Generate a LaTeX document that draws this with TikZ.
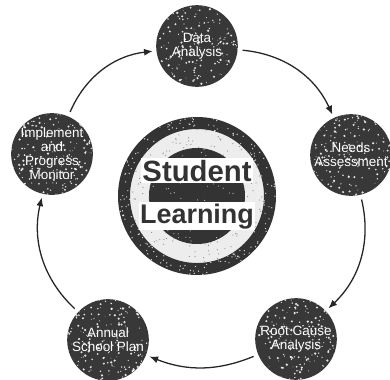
\documentclass[tikz,border=0pt]{standalone}
\usepackage{fontspec}
\setmainfont{Liberation Sans}
\usetikzlibrary{arrows.meta}

\begin{document}
\begin{tikzpicture}[x=0.03cm,y=-0.03cm,
	stage/.style={circle,fill=black!78,text=white,minimum size=2.45cm,inner sep=0pt,
		align=center,font=\fontsize{11.5}{12}\selectfont,
		path picture={
			\foreach \k in {1,...,170}{
				\pgfmathsetmacro\ang{rnd*360}
				\pgfmathsetmacro\rad{sqrt(rnd)*36}
				\pgfmathsetmacro\dot{0.3+rnd*0.8}
				\fill[white,opacity=0.85] (path picture bounding box.center) ++(\ang:\rad pt) circle (\dot pt);
			}}},
	cyc/.style={-{Latex[length=2.6mm,width=2.1mm]},line width=1.1pt,black!85,
		shorten <=4pt,shorten >=3pt},
	core/.style={fill=white,text=black!80,inner sep=1.2pt,font=\fontsize{23}{23}\selectfont\bfseries}]
\useasboundingbox (0,0) rectangle (390,379);
\pgfmathsetseed{11}

% the five stages
\node[stage] (da) at (197,46) {Data\\Analysis};
\node[stage] (na) at (351,155) {Needs\\Assessment};
\node[stage] (rc) at (296,339) {Root Cause\\Analysis};
\node[stage] (sp) at (108,340) {Annual\\School Plan};
\node[stage] (pm) at (52,154) {Implement\\and\\Progress\\Monitor};

% the cycle
\draw[cyc] (da) to[bend left=30] (na);
\draw[cyc] (na) to[bend left=30] (rc);
\draw[cyc] (rc) to[bend left=22] (sp);
\draw[cyc] (sp) to[bend left=30] (pm);
\draw[cyc] (pm) to[bend left=30] (da);

% centre
\coordinate (sl) at (197,196);
\fill[black!7] (sl) circle (73);
\draw[line width=0.36cm,black!80] (sl) circle (73);
\fill[black!80] (sl) circle (48);
\foreach \k in {1,...,160}{
	\pgfmathsetmacro\ang{rnd*360}
	\pgfmathsetmacro\rad{67+rnd*12}
	\fill[white,opacity=0.8] (sl) ++(\ang:\rad) circle (0.7);
}
\foreach \k in {1,...,120}{
	\pgfmathsetmacro\ang{rnd*360}
	\pgfmathsetmacro\rad{48+rnd*19}
	\fill[black!45] (sl) ++(\ang:\rad) circle (0.6);
}
\foreach \k in {1,...,90}{
	\pgfmathsetmacro\ang{rnd*360}
	\pgfmathsetmacro\rad{sqrt(rnd)*47}
	\fill[white,opacity=0.7] (sl) ++(\ang:\rad) circle (0.6);
}
\node[core,anchor=base,font=\fontsize{25}{25}\selectfont\bfseries] (st) at (197,181) {Student};
\node[core,anchor=base] (lr) at (197,223) {Learning};
\end{tikzpicture}
\end{document}
